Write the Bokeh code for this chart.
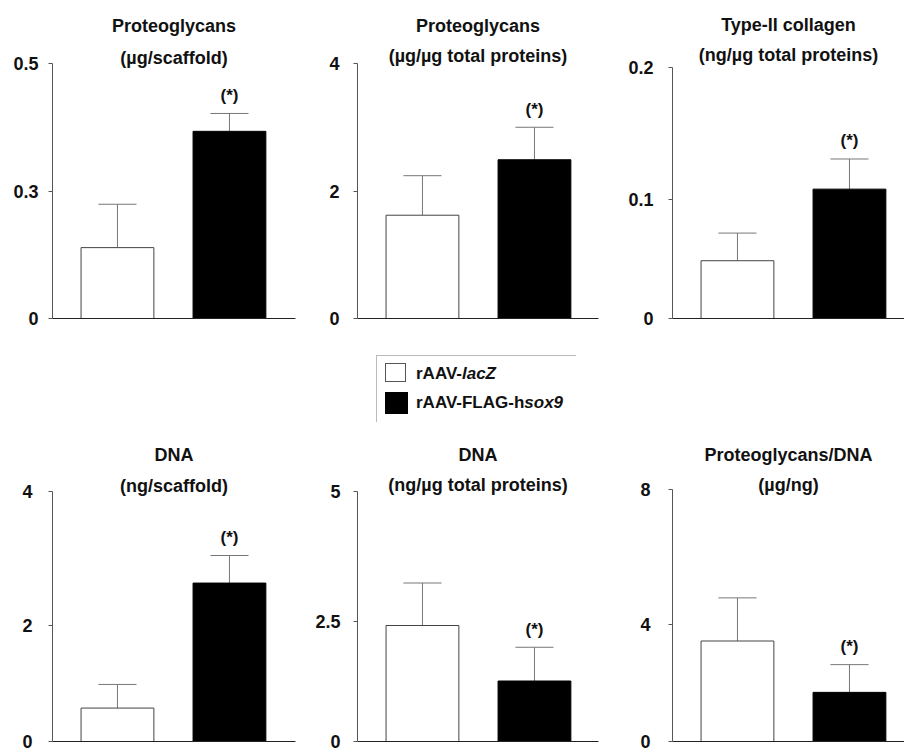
from bokeh.plotting import figure
from bokeh.layouts import column, row
from bokeh.models import Range1d, FixedTicker, Label, Div, ColumnDataSource
from bokeh.embed import file_html
from bokeh.resources import INLINE
from bokeh.core.properties import value

# ---------------- data ----------------
groups = ["rAAV-lacZ", "rAAV-FLAG-hsox9"]
fills = ["white", "black"]

titles = ["Proteoglycans", "Proteoglycans", "Type-II collagen",
          "DNA", "DNA", "Proteoglycans/DNA"]
subtitles = ["(\u00b5g/scaffold)", "(\u00b5g/\u00b5g total proteins)", "(ng/\u00b5g total proteins)",
             "(ng/scaffold)", "(ng/\u00b5g total proteins)", "(\u00b5g/ng)"]

pg_scaffold_mean = [0.139, 0.367]
pg_scaffold_err = [0.085, 0.035]
pg_protein_mean = [1.62, 2.49]
pg_protein_err = [0.62, 0.51]
col2_protein_mean = [0.046, 0.103]
col2_protein_err = [0.022, 0.024]
dna_scaffold_mean = [0.535, 2.535]
dna_scaffold_err = [0.378, 0.441]
dna_protein_mean = [2.32, 1.21]
dna_protein_err = [0.85, 0.675]
pg_dna_mean = [3.19, 1.56]
pg_dna_err = [1.37, 0.88]

significance = ["", "(*)"]

y_max = [0.5, 4, 0.2, 4, 5, 8]
tick_values = [[0, 0.25, 0.5], [0, 2, 4], [0, 0.0944, 0.2],
               [0, 1.86, 4], [0, 2.4, 5], [0, 3.72, 8]]
tick_labels = [["0", "0.3", "0.5"], ["0", "2", "4"], ["0", "0.1", "0.2"],
               ["0", "2", "4"], ["0", "2.5", "5"], ["0", "4", "8"]]

means = [pg_scaffold_mean, pg_protein_mean, col2_protein_mean,
         dna_scaffold_mean, dna_protein_mean, pg_dna_mean]
errors = [pg_scaffold_err, pg_protein_err, col2_protein_err,
          dna_scaffold_err, dna_protein_err, pg_dna_err]

# ---------------- style / layout ----------------
FONT = "Liberation Sans"
PX_PER_GROUP = 112
X_START = -0.58
BAR_W = 0.65
CAP_W = 0.34

# width, height, border left, right, top, bottom, axis length (px),
# title offset above axis top, subtitle offset above axis top, tick label standoff
geom = [
    (300, 330, 52, 5, 2, 12, 255, 38, 6, 10),
    (300, 330, 57, 2, 2, 12, 255, 38, 8, 14),
    (304, 330, 72, 0, 2, 11, 252, 42, 12, 15),
    (300, 326, 52, 5, 2, 10, 250, 37, 6, 16),
    (300, 326, 57, 2, 2, 10, 250, 37, 7, 13),
    (304, 326, 72, 0, 2, 10, 252, 35, 5, 18),
]


def make_panel(i):
    w, h, bl, br, bt, bb, axis_px, off_t, off_s, standoff = geom[i]
    fw = w - bl - br
    fh = h - bt - bb
    x0, x1 = X_START, X_START + fw / PX_PER_GROUP
    y_end = y_max[i] * fh / axis_px
    p = figure(width=w, height=h, output_backend="svg", toolbar_location=None,
               x_range=Range1d(x0, x1), y_range=Range1d(0, y_end),
               min_border_left=bl, min_border_right=br,
               min_border_top=bt, min_border_bottom=bb, title=None)
    p.outline_line_color = None
    p.grid.visible = False
    p.background_fill_color = "white"
    p.border_fill_color = "white"

    xc = (x0 + x1) / 2
    for txt, off in ((titles[i], off_t), (subtitles[i], off_s)):
        p.add_layout(Label(x=xc, y=y_max[i], y_offset=off, text=txt,
                           text_align="center", text_baseline="middle",
                           text_font=FONT, text_font_size="18px",
                           text_font_style="bold", text_color="#111111"))

    xs = list(range(len(groups)))
    m = means[i]
    e = errors[i]
    hi = [a + b for a, b in zip(m, e)]
    src = ColumnDataSource(dict(
        x=xs, top=m, hi=hi,
        cl=[x - CAP_W / 2 for x in xs], cr=[x + CAP_W / 2 for x in xs],
        fill=fills, line=["#444444", "#000000"], sig=significance))

    p.segment(x0="x", y0="top", x1="x", y1="hi", line_color="#777777",
              line_width=1, source=src)
    p.vbar(x="x", top="top", bottom=0, width=BAR_W, fill_color="fill",
           line_color="line", line_width=1, source=src)
    p.segment(x0="cl", y0="hi", x1="cr", y1="hi", line_color="#777777",
              line_width=1, source=src)
    p.text(x="x", y="hi", text="sig", text_align="center", text_baseline="middle",
           y_offset=-18, text_font=value(FONT), text_font_size="17px",
           text_font_style="bold", text_color="#111111", source=src)

    # x axis: plain baseline
    p.xaxis.ticker = FixedTicker(ticks=[])
    p.xaxis.major_tick_out = 0
    p.xaxis.major_tick_in = 0
    p.xaxis.minor_tick_line_color = None
    p.xaxis.major_label_text_font_size = "0px"
    p.xaxis.major_label_standoff = 0
    p.xaxis.axis_line_color = "#222222"

    # y axis (line stops at the top tick)
    p.yaxis.bounds = (0, y_max[i])
    p.yaxis.ticker = FixedTicker(ticks=tick_values[i])
    p.yaxis.major_label_overrides = {v: l for v, l in zip(tick_values[i], tick_labels[i])}
    p.yaxis.minor_tick_line_color = None
    p.yaxis.major_tick_out = 4
    p.yaxis.major_tick_in = 0
    p.yaxis.major_tick_line_color = "#555555"
    p.yaxis.axis_line_color = "#555555"
    p.yaxis.major_label_standoff = standoff
    p.yaxis.major_label_text_font = FONT
    p.yaxis.major_label_text_font_size = "18px"
    p.yaxis.major_label_text_font_style = "bold"
    p.yaxis.major_label_text_color = "#111111"
    return p


panels = [make_panel(i) for i in range(6)]

legend_html = (
    '<div style="position:relative;width:904px;height:95px;'
    "font-family:'Liberation Sans',Arial,sans-serif;font-weight:bold;font-size:17px;color:#111;\">"
    '<div style="position:absolute;left:376px;top:25px;width:200px;height:67px;'
    'border-left:1px solid #bbb;border-top:1px solid #bbb;"></div>'
    '<div style="position:absolute;left:385px;top:33px;width:21px;height:19px;'
    'border:1px solid #555;background:#fff;"></div>'
    '<div style="position:absolute;left:385px;top:62px;width:23px;height:22px;background:#000;"></div>'
    '<div style="position:absolute;left:416px;top:34px;line-height:20px;white-space:nowrap;">'
    'rAAV-<i>lacZ</i></div>'
    '<div style="position:absolute;left:416px;top:63px;line-height:20px;white-space:nowrap;">'
    'rAAV-FLAG-h<i>sox9</i></div>'
    '</div>'
)
legend = Div(text=legend_html, width=904, height=95, margin=(0, 0, 0, 0))

layout = column(row(*panels[:3]), legend, row(*panels[3:]))

with open("out.html", "w") as f:
    f.write(file_html(layout, INLINE))
